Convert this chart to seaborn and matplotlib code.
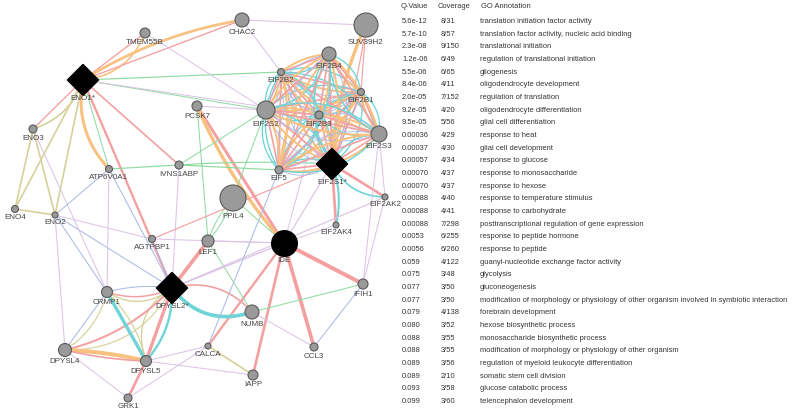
import itertools
import numpy as np
import pandas as pd
import matplotlib
matplotlib.use("Agg")
import matplotlib.pyplot as plt
import seaborn as sns

# ---- network nodes (layout position in px, radius in px) ----
node_names = ["ENO1*", "TMEM55B", "CHAC2", "SUV39H2", "EIF2B4", "EIF2B2", "EIF2B1",
              "PCSK7", "EIF2S2", "EIF2B3", "EIF2S3", "EIF2S1*", "EIF5", "EIF2AK2",
              "ENO3", "ATP6V0A1", "IVNS1ABP", "ENO4", "ENO2", "PPIL4", "AGTPBP1",
              "EIF2AK4", "LEF1", "IDE", "DPYSL2*", "IFIH1", "CRMP1", "NUMB",
              "CALCA", "CCL3", "DPYSL4", "DPYSL5", "IAPP", "GRK1"]
node_x = [83, 145, 242, 366, 329, 281, 361, 197, 266, 319, 379, 332, 279, 385,
          33, 109, 179, 15, 55, 233, 152, 336, 208, 284, 172, 363, 107, 252,
          208, 314, 65, 146, 253, 128]
node_y = [80, 33, 20, 25, 54, 72, 92, 106, 110, 115, 134, 164, 170, 197,
          129, 169, 165, 209, 215, 198, 239, 225, 241, 243, 288, 284, 292, 312,
          346, 347, 350, 361, 375, 398]
node_r = [13, 5, 7, 12, 7, 3.5, 3.5, 5, 9, 4, 8, 13, 4, 3, 4, 3.5, 4, 3.5, 3,
          13, 3.5, 3, 6, 12.5, 13, 5, 5.5, 7, 3, 4, 6.5, 5.5, 5, 4]
node_kind = ["query" if n.endswith("*") else ("hub" if n == "IDE" else "gene") for n in node_names]

nodes = pd.DataFrame({"name": node_names, "x": node_x, "y": node_y, "r": node_r, "kind": node_kind})
pos = {n: (x, y) for n, x, y in zip(node_names, node_x, node_y)}

edge_colors = {"phys": "#f5a0a0", "pred": "#f9c180", "path": "#6ed4d8", "gen": "#8edaa0",
               "coexp": "#dac3e4", "coloc": "#a9b8e6", "dom": "#d6d19a"}

# (source, target, type, width, curvature)
edges = [
    ("ENO1*", "TMEM55B", "phys", 0.8, 0), ("ENO1*", "TMEM55B", "pred", 1.0, -0.3),
    ("ENO1*", "CHAC2", "phys", 0.8, 0), ("ENO1*", "CHAC2", "pred", 1.6, 0.1),
    ("ENO1*", "EIF2B2", "gen", 0.7, 0), ("ENO1*", "EIF2S2", "gen", 0.6, 0),
    ("ENO1*", "EIF2B3", "coexp", 0.6, 0),
    ("ENO1*", "ENO3", "phys", 0.8, 0), ("ENO1*", "ENO3", "dom", 1.0, 0.25),
    ("ENO1*", "ENO2", "dom", 1.0, 0), ("ENO1*", "ENO4", "dom", 1.0, 0),
    ("ENO1*", "ATP6V0A1", "pred", 1.8, -0.25), ("ENO1*", "ATP6V0A1", "gen", 0.6, 0),
    ("ENO1*", "IVNS1ABP", "phys", 1.0, 0), ("ENO1*", "DPYSL2*", "phys", 1.4, 0),
    ("TMEM55B", "EIF2S2", "coexp", 0.6, 0),
    ("CHAC2", "SUV39H2", "coexp", 0.6, 0), ("CHAC2", "EIF2B2", "coexp", 0.6, 0),
    ("SUV39H2", "EIF2S1*", "pred", 2.0, -0.1), ("SUV39H2", "EIF2B1", "phys", 0.7, 0),
    ("SUV39H2", "EIF2S1*", "phys", 0.7, 0.05),
    ("PCSK7", "IDE", "phys", 1.8, 0), ("PCSK7", "IDE", "pred", 2.0, -0.08),
    ("PCSK7", "LEF1", "gen", 0.6, 0), ("PCSK7", "EIF2S2", "coexp", 0.6, 0),
    ("ATP6V0A1", "IVNS1ABP", "gen", 0.7, 0), ("IVNS1ABP", "EIF5", "gen", 0.7, 0),
    ("IVNS1ABP", "EIF2S1*", "gen", 0.7, 0.03), ("IVNS1ABP", "EIF2S2", "gen", 0.6, 0),
    ("EIF2S1*", "EIF2AK4", "phys", 1.6, 0), ("EIF2S1*", "EIF2AK4", "path", 1.2, 0.15),
    ("EIF2S1*", "EIF2AK2", "phys", 1.6, 0), ("EIF2S1*", "EIF2AK2", "path", 1.0, -0.3),
    ("EIF2S3", "EIF2AK2", "coexp", 0.6, 0), ("EIF2S3", "IFIH1", "coexp", 0.6, 0),
    ("EIF2AK2", "IFIH1", "coexp", 0.6, 0),
    ("PPIL4", "LEF1", "gen", 0.6, 0.1), ("PPIL4", "LEF1", "gen", 0.6, -0.1),
    ("PPIL4", "IDE", "gen", 0.6, 0), ("PPIL4", "EIF2S2", "gen", 0.6, 0),
    ("IDE", "IFIH1", "phys", 2.4, 0), ("IDE", "CCL3", "phys", 2.2, 0),
    ("IDE", "IAPP", "phys", 1.6, 0), ("IDE", "CALCA", "phys", 1.4, 0),
    ("IDE", "LEF1", "coexp", 0.6, 0), ("IDE", "EIF2S1*", "coexp", 0.7, 0),
    ("IDE", "EIF2AK4", "coexp", 0.6, 0), ("IDE", "EIF2B3", "coexp", 0.6, 0),
    ("LEF1", "NUMB", "gen", 0.6, 0), ("LEF1", "DPYSL2*", "phys", 2.2, 0),
    ("DPYSL2*", "IDE", "coexp", 0.8, 0), ("DPYSL2*", "EIF2AK2", "coexp", 0.7, 0),
    ("DPYSL2*", "NUMB", "path", 2.2, -0.35), ("DPYSL2*", "NUMB", "phys", 1.0, 0.3),
    ("DPYSL2*", "CRMP1", "phys", 0.9, 0.2), ("DPYSL2*", "CRMP1", "dom", 0.8, 0.35),
    ("DPYSL2*", "CRMP1", "coloc", 0.6, -0.1),
    ("DPYSL2*", "DPYSL5", "phys", 2.0, 0), ("DPYSL2*", "DPYSL5", "path", 1.4, 0.2),
    ("DPYSL2*", "DPYSL5", "dom", 0.8, -0.4),
    ("DPYSL2*", "DPYSL4", "phys", 1.2, 0.15), ("DPYSL2*", "DPYSL4", "dom", 0.7, 0.3),
    ("DPYSL2*", "AGTPBP1", "coloc", 0.6, 0), ("DPYSL2*", "ENO2", "coloc", 0.6, 0),
    ("DPYSL2*", "ATP6V0A1", "coloc", 0.6, 0), ("DPYSL2*", "IVNS1ABP", "coexp", 0.6, 0),
    ("CRMP1", "DPYSL5", "path", 2.0, 0), ("CRMP1", "DPYSL5", "dom", 0.7, 0.15),
    ("CRMP1", "DPYSL4", "dom", 0.7, 0.2), ("CRMP1", "DPYSL4", "coloc", 0.6, 0),
    ("CRMP1", "ENO2", "coloc", 0.6, 0), ("CRMP1", "ATP6V0A1", "coexp", 0.6, 0),
    ("DPYSL4", "DPYSL5", "pred", 2.4, 0.05), ("DPYSL4", "DPYSL5", "phys", 1.0, -0.05),
    ("DPYSL4", "GRK1", "coexp", 0.6, 0), ("DPYSL4", "ENO2", "coexp", 0.6, 0),
    ("DPYSL5", "GRK1", "phys", 1.6, 0), ("GRK1", "CALCA", "coexp", 0.6, 0),
    ("DPYSL5", "CALCA", "coexp", 0.6, 0), ("DPYSL5", "IAPP", "coexp", 0.6, 0),
    ("NUMB", "IFIH1", "gen", 0.6, 0), ("NUMB", "CCL3", "coexp", 0.6, 0),
    ("IFIH1", "CCL3", "coloc", 0.6, 0), ("CALCA", "IAPP", "dom", 1.0, 0),
    ("CALCA", "EIF5", "coloc", 0.6, 0),
    ("ENO2", "ENO3", "dom", 1.0, 0), ("ENO2", "ENO4", "dom", 1.0, 0),
    ("ENO3", "ENO4", "dom", 1.0, 0), ("ENO3", "CRMP1", "coexp", 0.6, 0),
    ("ENO2", "ATP6V0A1", "coloc", 0.6, 0), ("ENO2", "AGTPBP1", "coexp", 0.6, 0),
    ("AGTPBP1", "IDE", "coexp", 0.6, 0), ("AGTPBP1", "EIF2S1*", "phys", 0.7, 0),
]

# dense translation-factor cluster
eif_cluster = ["EIF2B1", "EIF2B2", "EIF2B3", "EIF2B4", "EIF2S1*", "EIF2S2", "EIF2S3", "EIF5"]
cluster_styles = [("phys", 1.0, 0.0), ("pred", 1.2, 0.15), ("path", 0.8, -0.3), ("coloc", 0.5, 0.3)]

# ---- GO enrichment table ----
q_values = ["5.6e-12", "5.7e-10", "2.3e-08", "1.2e-06", "5.5e-06", "8.4e-06", "2.0e-05",
            "9.2e-05", "9.5e-05", "0.00036", "0.00037", "0.00057", "0.00070", "0.00070",
            "0.00088", "0.00088", "0.00088", "0.0053", "0.0056", "0.059", "0.075", "0.077",
            "0.077", "0.079", "0.080", "0.088", "0.088", "0.089", "0.089", "0.093", "0.099"]
coverage = ["8/31", "8/57", "9/150", "6/49", "6/65", "4/11", "7/152", "4/20", "5/56", "4/29",
            "4/30", "4/34", "4/37", "4/37", "4/40", "4/41", "7/298", "6/255", "6/260", "4/122",
            "3/48", "3/50", "3/50", "4/138", "3/52", "3/55", "3/55", "3/56", "2/10", "3/58", "3/60"]
go_terms = ["translation initiation factor activity",
            "translation factor activity, nucleic acid binding",
            "translational initiation",
            "regulation of translational initiation",
            "gliogenesis",
            "oligodendrocyte development",
            "regulation of translation",
            "oligodendrocyte differentiation",
            "glial cell differentiation",
            "response to heat",
            "glial cell development",
            "response to glucose",
            "response to monosaccharide",
            "response to hexose",
            "response to temperature stimulus",
            "response to carbohydrate",
            "posttranscriptional regulation of gene expression",
            "response to peptide hormone",
            "response to peptide",
            "guanyl-nucleotide exchange factor activity",
            "glycolysis",
            "gluconeogenesis",
            "modification of morphology or physiology of other organism involved in symbiotic interaction",
            "forebrain development",
            "hexose biosynthetic process",
            "monosaccharide biosynthetic process",
            "modification of morphology or physiology of other organism",
            "regulation of myeloid leukocyte differentiation",
            "somatic stem cell division",
            "glucose catabolic process",
            "telencephalon development"]

sns.set_style("white")
plt.rcParams['font.family'] = ['Liberation Sans', 'DejaVu Sans']

W, H = 792, 416
fig = plt.figure(figsize=(W / 100, H / 100), dpi=100)
ax = fig.add_axes([0, 0, 400 / W, 1])


def draw_edge(a, b, kind, lw, rad):
    x0, y0 = pos[a]
    x1, y1 = pos[b]
    cx = (x0 + x1) / 2 + rad * (y1 - y0)
    cy = (y0 + y1) / 2 - rad * (x1 - x0)
    t = np.linspace(0, 1, 40)
    bx = (1 - t) ** 2 * x0 + 2 * (1 - t) * t * cx + t ** 2 * x1
    by = (1 - t) ** 2 * y0 + 2 * (1 - t) * t * cy + t ** 2 * y1
    ax.plot(bx, by, color=edge_colors[kind], lw=lw * 1.2, solid_capstyle="round", zorder=1)


for a, b, kind, lw, rad in edges:
    draw_edge(a, b, kind, lw, rad)
for i, (a, b) in enumerate(itertools.combinations(eif_cluster, 2)):
    for j, (kind, lw, rad) in enumerate(cluster_styles):
        if (i + j) % 3 == 2 and kind == "coloc":
            continue
        draw_edge(a, b, kind, lw, rad if i % 2 == 0 else -rad)

# nodes
genes = nodes[nodes.kind == "gene"]
sns.scatterplot(data=genes, x="x", y="y", s=(genes.r * 1.44) ** 2, color="#9a9a9a",
                edgecolor="#5a5a5a", linewidth=0.8, ax=ax, zorder=3, legend=False)
hub = nodes[nodes.kind == "hub"]
sns.scatterplot(data=hub, x="x", y="y", s=(hub.r * 1.44) ** 2, color="black",
                edgecolor="black", ax=ax, zorder=3, legend=False)
query = nodes[nodes.kind == "query"]
sns.scatterplot(data=query, x="x", y="y", marker="D", s=(query.r * 1.44 / 1.2) ** 2,
                color="black", edgecolor="black", ax=ax, zorder=3, legend=False)
ax.set_xlim(0, 400)
ax.set_ylim(H, 0)
ax.axis("off")

for _, row in nodes.iterrows():
    ax.text(row.x, row.y + row.r + 5, row["name"], ha="center", va="center",
            fontsize=5.8, color="#444444", zorder=4)


# table
def fx(px):
    return px / W


def fy(py):
    return 1 - py / H


tcol = "#333333"
fs = 5.45
fig.text(fx(401), fy(7), "Q-Value", fontsize=fs, color=tcol, va="center")
fig.text(fx(438), fy(7), "Coverage", fontsize=fs, color=tcol, va="center")
fig.text(fx(481), fy(7), "GO Annotation", fontsize=fs, color=tcol, va="center")
for i, (q, c, g) in enumerate(zip(q_values, coverage, go_terms)):
    yy = 21.5 + i * 12.67
    fig.text(fx(402), fy(yy), q, fontsize=fs, color=tcol, va="center")
    fig.text(fx(441), fy(yy), c, fontsize=fs, color=tcol, va="center")
    fig.text(fx(480), fy(yy), g, fontsize=fs, color=tcol, va="center")

fig.savefig("out.png", dpi=100, facecolor="white")
